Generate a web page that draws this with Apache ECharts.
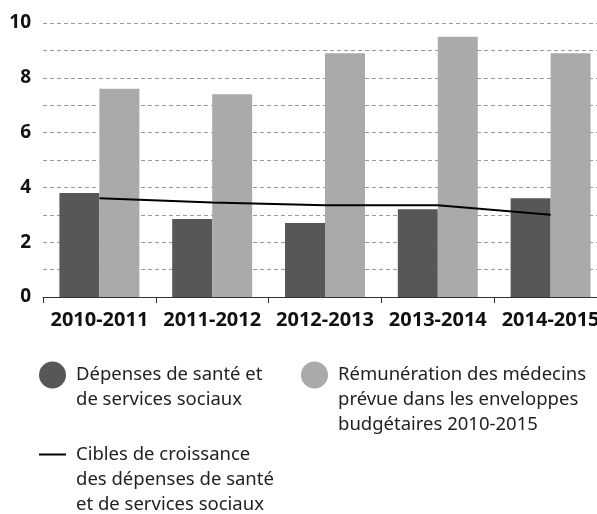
<!DOCTYPE html>
<html>
<head>
<meta charset="utf-8">
<script src="https://cdn.jsdelivr.net/npm/echarts@6/dist/echarts.min.js"></script>
<style>
  html, body { margin: 0; padding: 0; background: #fff; }
  #main { width: 597px; height: 514px; }
</style>
</head>
<body>
<div id="main"></div>
<script>
// périodes budgétaires
const categories = ['2010-2011', '2011-2012', '2012-2013', '2013-2014', '2014-2015'];
// croissance (%) des dépenses de santé et de services sociaux
const depenses = [3.8, 2.85, 2.7, 3.2, 3.6];
// croissance (%) de la rémunération des médecins
const remuneration = [7.6, 7.4, 8.9, 9.5, 8.9];
// cibles de croissance
const cibles = [3.6, 3.45, 3.35, 3.35, 3.0];
const yTicks = [0, 2, 4, 6, 8, 10];

const nomDepenses = 'Dépenses de santé et de services sociaux';
const nomRemuneration = 'Rémunération des médecins prévue dans les enveloppes budgétaires 2010-2015';
const nomCibles = 'Cibles de croissance des dépenses de santé et de services sociaux';

// découpage des libellés de légende
const legendLines = {};
legendLines[nomDepenses] = ['Dépenses de santé et', 'de services sociaux'];
legendLines[nomRemuneration] = ['Rémunération des médecins', 'prévue dans les enveloppes', 'budgétaires 2010-2015'];
legendLines[nomCibles] = ['Cibles de croissance', 'des dépenses de santé', 'et de services sociaux'];

// lignes vides devant pour aligner la première ligne sur l'icône
const legendFormatter = name => {
  const l = legendLines[name];
  return '\n'.repeat(l.length - 1) + l.join('\n');
};

const font = 'Noto Sans';
const legendText = { fontFamily: font, fontSize: 18.5, lineHeight: 25, color: '#222' };

const chart = echarts.init(document.getElementById('main'));

const option = {
  animation: false,
  grid: { left: 43, right: -10, top: 23, bottom: 217, outerBoundsMode: 'none' },
  xAxis: {
    type: 'category',
    data: categories,
    axisLine: { lineStyle: { color: '#333', width: 1 } },
    axisTick: { show: true, interval: 0, length: 6, lineStyle: { color: '#333' } },
    axisLabel: {
      interval: 0,
      hideOverlap: false,
      margin: 13,
      fontFamily: font, fontSize: 20, fontWeight: 'bold', color: '#111'
    }
  },
  yAxis: {
    type: 'value',
    min: 0,
    max: 10,
    interval: 1,
    axisLine: { show: false },
    axisTick: { show: false },
    splitLine: { lineStyle: { color: '#999', type: [4, 3], width: 1 } },
    axisLabel: {
      margin: 12,
      fontFamily: font, fontSize: 19, fontWeight: 'bold', color: '#111',
      formatter: v => (yTicks.includes(v) ? String(v) : '')
    }
  },
  legend: [
    {
      data: [nomDepenses], left: 39, top: 337.5, padding: 0,
      icon: 'circle', itemWidth: 37, itemHeight: 27,
      selectedMode: false, formatter: legendFormatter, textStyle: legendText
    },
    {
      data: [nomRemuneration], left: 301, top: 312.5, padding: 0,
      icon: 'circle', itemWidth: 37, itemHeight: 27,
      selectedMode: false, formatter: legendFormatter, textStyle: legendText
    },
    {
      data: [nomCibles], left: 39, top: 392, padding: 0,
      icon: 'path://M0,0H27V2H0Z M32,1L32,1', itemWidth: 32, itemHeight: 27,
      itemStyle: { borderWidth: 0 },
      selectedMode: false, formatter: legendFormatter, textStyle: legendText
    }
  ],
  series: [
    {
      name: nomDepenses,
      type: 'bar',
      data: depenses,
      barWidth: 40,
      barGap: '0%',
      itemStyle: { color: '#575757' }
    },
    {
      name: nomRemuneration,
      type: 'bar',
      data: remuneration,
      barWidth: 40,
      barGap: '0%',
      itemStyle: { color: '#aaaaaa' }
    },
    {
      name: nomCibles,
      type: 'line',
      data: cibles,
      showSymbol: false,
      color: '#000',
      lineStyle: { color: '#000', width: 2 },
      z: 5
    }
  ]
};

option && chart.setOption(option);
</script>
</body>
</html>
